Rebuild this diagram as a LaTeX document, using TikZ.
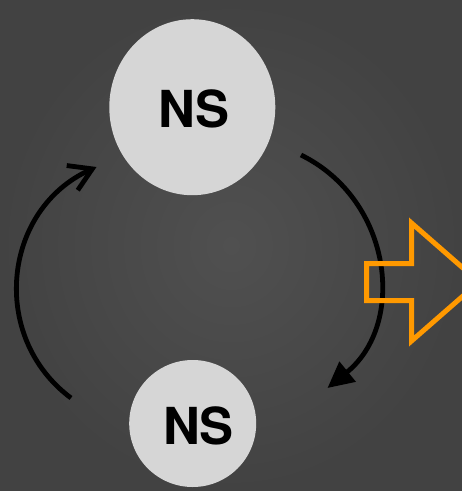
\documentclass[tikz,border=0pt]{standalone}
\usepackage{fontspec}
\setsansfont{TeX Gyre Heros}
\usetikzlibrary{arrows.meta,shapes.geometric}
\definecolor{bgin}{RGB}{80,80,80}
\definecolor{bgout}{RGB}{66,66,66}
\definecolor{nsfill}{RGB}{214,214,214}
\definecolor{orangeA}{RGB}{255,153,0}
\tikzset{
  nscircle/.style={ellipse, fill=nsfill, draw=none, inner sep=0pt},
  nslabel/.style={font=\sffamily\bfseries\fontsize{51}{60}\selectfont, text=black, inner sep=0pt},
  conn/.style={draw=black, line width=4.8pt},
  bigarrow/.style={draw=orangeA, line width=5pt, line join=miter, fill=none}
}
\begin{document}
\begin{tikzpicture}[x=1pt,y=-1pt]
\useasboundingbox (0,0) rectangle (462,491);
\shade[inner color=bgin, outer color=bgout] (0,0) rectangle (462,491);
\clip (0,0) rectangle (462,491);
% nodes
\node[nscircle, minimum width=166pt, minimum height=176pt] (top) at (192.3,107.2) {};
\node[nscircle, minimum width=127pt, minimum height=127pt] (bot) at (192.7,423.5) {};
\node[nslabel] (toplab) at (193.8,108.7) {NS};
\node[nslabel] (botlab) at (198.5,426) {NS};
% connector end points
\coordinate (r1) at (301,155);
\coordinate (r2) at (327.5,388);
\coordinate (l1) at (71,398);
\coordinate (l2) at (96.5,167);
\draw[conn, -{Triangle[length=26pt,width=25pt]}] (r1) .. controls (392.2,199.7) and (406.6,323.7) .. (r2);
\draw[conn, -{Straight Barb[length=22pt,width=27pt]}] (l1) .. controls (-11.4,336.4) and (3.0,208.9) .. (l2);
% orange outlined arrow
\draw[bigarrow] (366.5,263.5) -- (411.5,263.5) -- (411.5,223) -- (479,282) -- (411.5,341) -- (411.5,300.5) -- (366.5,300.5) -- cycle;
\end{tikzpicture}
\end{document}
